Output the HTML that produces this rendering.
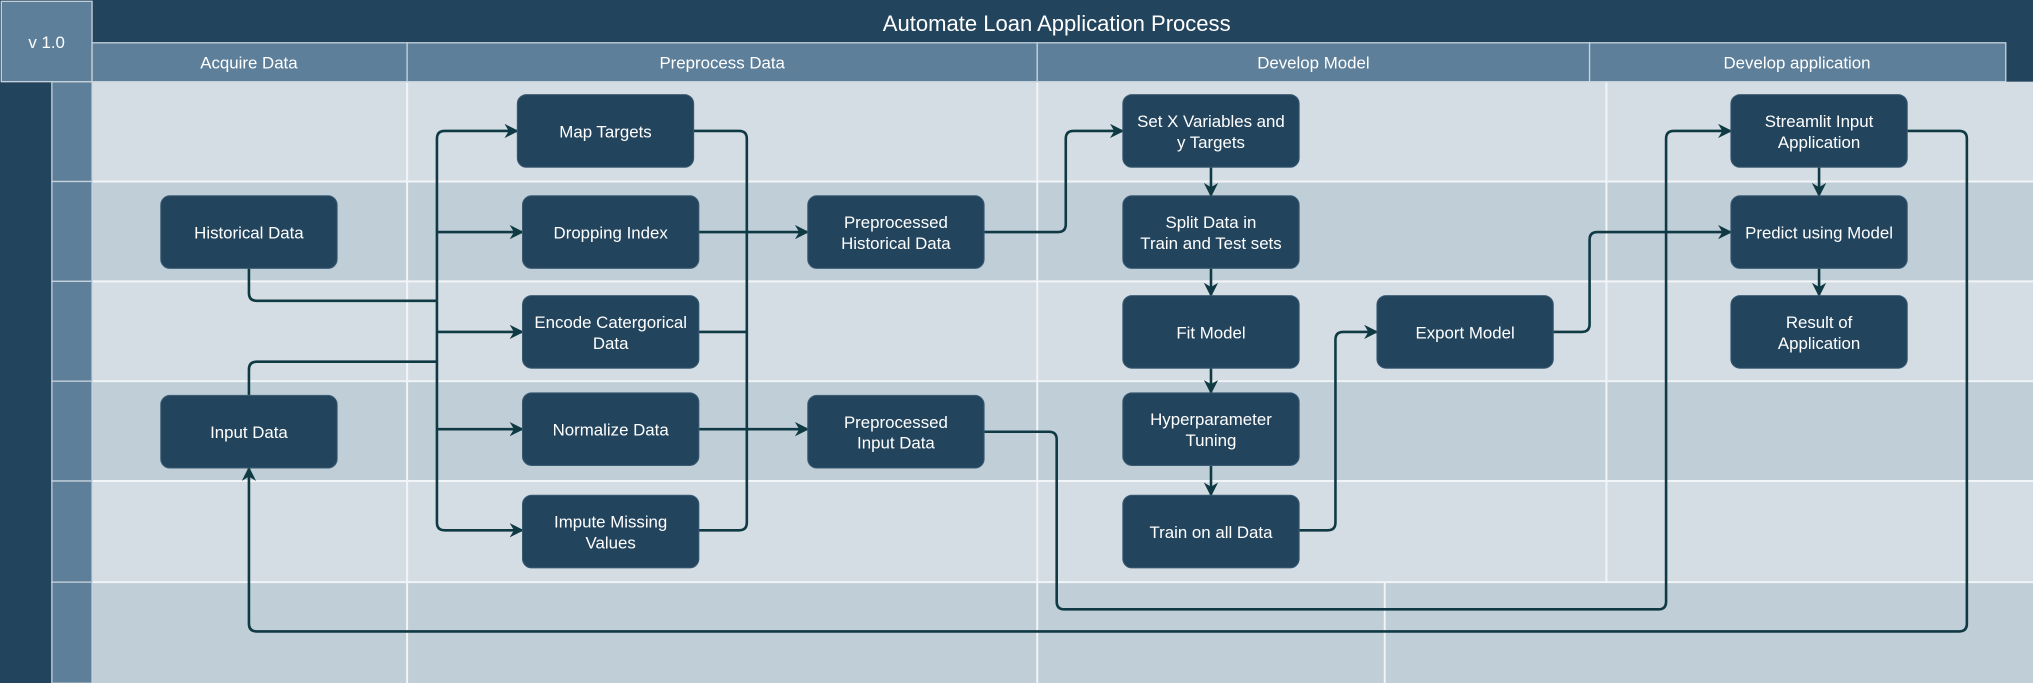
<!DOCTYPE html>
<html><head><meta charset="utf-8"><style>
html,body{margin:0;padding:0;background:#fff;}
svg{display:block;}
text{font-family:"Liberation Sans",Arial,sans-serif;fill:#fff;}
</style></head><body>
<svg width="2033" height="683" viewBox="0 0 1568 526.8" preserveAspectRatio="none" xmlns="http://www.w3.org/2000/svg">
<defs>
<marker id="a" viewBox="0 0 10 10" refX="9" refY="5" markerWidth="5.5" markerHeight="5.5" orient="auto-start-reverse" markerUnits="strokeWidth">
<path d="M0,0 L10,5 L0,10 L3,5 Z" fill="#0f3a44"/></marker>
</defs>
<rect x="0" y="0" width="1568" height="527" fill="#23445d"/>
<rect x="71" y="63" width="1497" height="77" fill="#d5dde4"/>
<rect x="71" y="140" width="1497" height="77" fill="#c0ced8"/>
<rect x="71" y="217" width="1497" height="77" fill="#d5dde4"/>
<rect x="71" y="294" width="1497" height="77" fill="#c0ced8"/>
<rect x="71" y="371" width="1497" height="78" fill="#d5dde4"/>
<rect x="71" y="449" width="1497" height="78" fill="#c0ced8"/>
<g stroke="#f2f5f7" stroke-width="1.5">
<line x1="71" y1="140" x2="1568" y2="140"/><line x1="71" y1="217" x2="1568" y2="217"/>
<line x1="71" y1="294" x2="1568" y2="294"/><line x1="71" y1="371" x2="1568" y2="371"/>
<line x1="71" y1="449" x2="1568" y2="449"/>
<line x1="314" y1="63" x2="314" y2="527"/><line x1="800" y1="63" x2="800" y2="527"/>
<line x1="1239" y1="63" x2="1239" y2="449"/><line x1="1068" y1="449" x2="1068" y2="527"/>
</g>
<rect x="0" y="63" width="40" height="464" fill="#23445d"/>
<g fill="#5d7f99" stroke="#c8d3dc" stroke-width="1">
<rect x="40" y="63" width="31" height="77"/><rect x="40" y="140" width="31" height="77"/>
<rect x="40" y="217" width="31" height="77"/><rect x="40" y="294" width="31" height="77"/>
<rect x="40" y="371" width="31" height="78"/><rect x="40" y="449" width="31" height="78"/>
<rect x="1" y="1" width="70" height="62"/>
<rect x="71" y="33" width="243" height="30"/><rect x="314" y="33" width="486" height="30"/>
<rect x="800" y="33" width="426" height="30"/><rect x="1226" y="33" width="321" height="30"/>
</g>
<text x="36" y="37" font-size="13" text-anchor="middle">v 1.0</text>
<text x="815" y="24" font-size="17" text-anchor="middle">Automate Loan Application Process</text>
<g font-size="13" text-anchor="middle">
<text x="192" y="53">Acquire Data</text><text x="557" y="53">Preprocess Data</text>
<text x="1013" y="53">Develop Model</text><text x="1386" y="53">Develop application</text>
</g>
<g fill="none" stroke="#0f3a44" stroke-width="2">
<path d="M192,207 V226 q0,6 6,6 H337"/>
<path d="M192,305 V285 q0,-6 6,-6 H337"/>
<path d="M337,232 V107 q0,-6 6,-6 H399" marker-end="url(#a)"/>
<path d="M337,232 V403 q0,6 6,6 H403" marker-end="url(#a)"/>
<path d="M337,179 H403" marker-end="url(#a)"/>
<path d="M337,256 H403" marker-end="url(#a)"/>
<path d="M337,331 H403" marker-end="url(#a)"/>
<path d="M535,101 H570 q6,0 6,6 V403 q0,6 -6,6 H539"/>
<path d="M539,256 H576"/>
<path d="M539,179 H623" marker-end="url(#a)"/>
<path d="M539,331 H623" marker-end="url(#a)"/>
<path d="M759,179 H816 q6,0 6,-6 V107 q0,-6 6,-6 H866" marker-end="url(#a)"/>
<path d="M934,129 V151" marker-end="url(#a)"/>
<path d="M934,207 V228" marker-end="url(#a)"/>
<path d="M934,284 V303" marker-end="url(#a)"/>
<path d="M934,359 V382" marker-end="url(#a)"/>
<path d="M1002,409 H1024 q6,0 6,-6 V262 q0,-6 6,-6 H1062" marker-end="url(#a)"/>
<path d="M1198,256 H1220 q6,0 6,-6 V185 q0,-6 6,-6 H1335" marker-end="url(#a)"/>
<path d="M759,333 H809 q6,0 6,6 V464 q0,6 6,6 H1279 q6,0 6,-6 V107 q0,-6 6,-6 H1335" marker-end="url(#a)"/>
<path d="M1471,101 H1511 q6,0 6,6 V481 q0,6 -6,6 H198 q-6,0 -6,-6 V361" marker-end="url(#a)"/>
<path d="M1403,129 V151" marker-end="url(#a)"/>
<path d="M1403,207 V228" marker-end="url(#a)"/>
</g>
<g fill="#23445d" stroke="#3a5a72" stroke-width="0.8">
<rect x="124" y="151" width="136" height="56" rx="7"/>
<rect x="124" y="305" width="136" height="56" rx="7"/>
<rect x="399" y="73" width="136" height="56" rx="7"/>
<rect x="403" y="151" width="136" height="56" rx="7"/>
<rect x="403" y="228" width="136" height="56" rx="7"/>
<rect x="403" y="303" width="136" height="56" rx="7"/>
<rect x="403" y="382" width="136" height="56" rx="7"/>
<rect x="623" y="151" width="136" height="56" rx="7"/>
<rect x="623" y="305" width="136" height="56" rx="7"/>
<rect x="866" y="73" width="136" height="56" rx="7"/>
<rect x="866" y="151" width="136" height="56" rx="7"/>
<rect x="866" y="228" width="136" height="56" rx="7"/>
<rect x="866" y="303" width="136" height="56" rx="7"/>
<rect x="866" y="382" width="136" height="56" rx="7"/>
<rect x="1062" y="228" width="136" height="56" rx="7"/>
<rect x="1335" y="73" width="136" height="56" rx="7"/>
<rect x="1335" y="151" width="136" height="56" rx="7"/>
<rect x="1335" y="228" width="136" height="56" rx="7"/>
</g>
<g font-size="13" text-anchor="middle">
<text x="192" y="184">Historical Data</text>
<text x="192" y="338">Input Data</text>
<text x="467" y="106">Map Targets</text>
<text x="471" y="184">Dropping Index</text>
<text x="471" y="253">Encode Catergorical</text><text x="471" y="269">Data</text>
<text x="471" y="336">Normalize Data</text>
<text x="471" y="407">Impute Missing</text><text x="471" y="423">Values</text>
<text x="691" y="176">Preprocessed</text><text x="691" y="192">Historical Data</text>
<text x="691" y="330">Preprocessed</text><text x="691" y="346">Input Data</text>
<text x="934" y="98">Set X Variables and</text><text x="934" y="114">y Targets</text>
<text x="934" y="176">Split Data in</text><text x="934" y="192">Train and Test sets</text>
<text x="934" y="261">Fit Model</text>
<text x="934" y="328">Hyperparameter</text><text x="934" y="344">Tuning</text>
<text x="934" y="415">Train on all Data</text>
<text x="1130" y="261">Export Model</text>
<text x="1403" y="98">Streamlit Input</text><text x="1403" y="114">Application</text>
<text x="1403" y="184">Predict using Model</text>
<text x="1403" y="253">Result of</text><text x="1403" y="269">Application</text>
</g>
</svg>
</body></html>
